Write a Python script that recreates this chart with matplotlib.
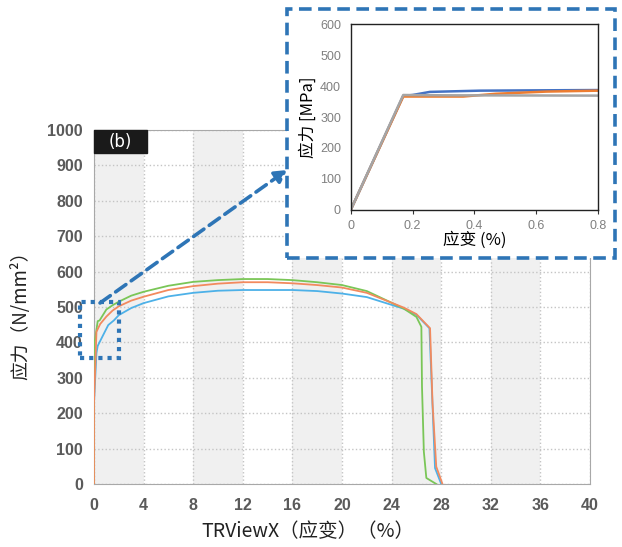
import numpy as np
import matplotlib.pyplot as plt
from matplotlib.patches import Rectangle, FancyArrowPatch

plt.rcParams['font.family'] = ['Noto Sans CJK SC', 'DejaVu Sans']

# --- 主图数据 (应变 %, 应力 N/mm2) ---
green_x = [0, 0, 0.05, 0.3, 0.45, 1.0, 1.5, 2, 3, 4, 6, 8, 10, 12, 14, 16, 18, 20, 22, 24, 25, 26, 26.4, 26.45, 26.6, 26.8, 27.6]
green_y = [0, 229, 400, 460, 462, 493, 505, 515, 532, 543, 560, 571, 576, 579, 579, 576, 570, 562, 545, 512, 495, 472, 444, 275, 91, 17, 0]

orange_x = [0, 0, 0.2, 0.5, 1, 1.5, 2, 3, 4, 6, 8, 10, 12, 14, 16, 18, 20, 22, 24, 25, 26, 27.1, 27.3, 27.6, 28.1]
orange_y = [0, 230, 430, 452, 473, 490, 502, 518, 529, 548, 559, 566, 570, 570, 567, 562, 555, 540, 512, 498, 480, 440, 228, 49, 0]

blue_x = [0, 0, 0.2, 0.3, 0.6, 1.15, 1.6, 2.0, 3, 4, 6, 8, 10, 12, 14, 16, 18, 20, 22, 24, 25, 26, 27.05, 27.5, 28.0]
blue_y = [0, 230, 370, 390, 411, 449, 462, 477, 497, 511, 530, 540, 546, 548, 548, 548, 545, 538, 528, 506, 495, 478, 440, 45, 0]

# --- 放大图数据 (应变 %, 应力 MPa) ---
in_blue_x = [0, 0.17, 0.2, 0.256, 0.418, 0.6, 0.8]
in_blue_y = [0, 368, 371, 381, 385, 386, 387]
in_orange_x = [0, 0.17, 0.2, 0.364, 0.47, 0.633, 0.8]
in_orange_y = [0, 366, 366, 366, 375, 382, 385]
in_grey_x = [0, 0.17, 0.3, 0.8]
in_grey_y = [0, 371, 370, 369]

xticks = list(range(0, 41, 4))
yticks = list(range(0, 1001, 100))
in_xticks = [0, 0.2, 0.4, 0.6, 0.8]
in_xlabels = ['0', '0.2', '0.4', '0.6', '0.8']
in_yticks = list(range(0, 601, 100))

fig = plt.figure(figsize=(6.22, 5.47), dpi=100)
ax = fig.add_axes([0.1511, 0.1152, 0.7975, 0.6471])

# 灰白相间背景
for i, x0 in enumerate(xticks[:-1]):
    if i % 2 == 0:
        ax.axvspan(x0, x0 + 4, color='#f0f0f0', zorder=0, lw=0)

ax.plot(blue_x, blue_y, color='#4db1e8', lw=1.3, zorder=3)
ax.plot(green_x, green_y, color='#7ac657', lw=1.3, zorder=3)
ax.plot(orange_x, orange_y, color='#f28a5e', lw=1.3, zorder=4)

ax.set_xlim(0, 40)
ax.set_ylim(0, 1000)
ax.set_xticks(xticks)
ax.set_yticks(yticks)
ax.grid(True, color='#c4c4c4', linestyle=':', lw=1)
ax.set_axisbelow(True)
ax.tick_params(axis='x', length=0, labelsize=11.5, labelcolor='#5a5a5a', pad=10)
ax.tick_params(axis='y', length=0, labelsize=11.5, labelcolor='#5a5a5a', pad=8)
for lab in ax.get_xticklabels() + ax.get_yticklabels():
    lab.set_fontweight('bold')
    lab.set_family(['Liberation Sans', 'DejaVu Sans'])
for s in ax.spines.values():
    s.set_color('#a8a8a8')
ax.set_xlabel('TRViewX（应变）（%）', fontsize=14, color='#222222')
ax.xaxis.set_label_coords(0.431, -0.105)
ax.set_ylabel('应力（N/mm²）', fontsize=13.5, color='#222222')
ax.yaxis.set_label_coords(-0.127, 0.49)

# (b) 标签
ax.add_patch(Rectangle((0, 935), 4.27, 65, color='#1a1a1a', zorder=6, clip_on=False))
ax.text(2.1, 965, '(b)', color='white', fontsize=12, ha='center', va='center', zorder=7,
        family=['DejaVu Sans'])

# 点线框
ax.add_patch(Rectangle((-1.13, 356), 3.15, 158, fill=False, edgecolor='#2e75b6',
                       lw=3, linestyle=(0, (1, 1.2)), zorder=8, clip_on=False))

# 放大图外框
frame = Rectangle((0.4614, 0.5283), 0.5273, 0.4552, transform=fig.transFigure,
                  facecolor='white', edgecolor='#2e75b6', lw=2.6,
                  linestyle=(0, (3.5, 1.8)), zorder=1)
fig.patches.append(frame)

# 虚线箭头
arrow = FancyArrowPatch((0.1608, 0.4461), (0.4614, 0.6892), transform=fig.transFigure,
                        arrowstyle='-|>,head_length=7,head_width=4', color='#2e75b6',
                        lw=2.6, linestyle=(0, (3.5, 1.8)), zorder=1.5, shrinkA=0, shrinkB=0)
fig.patches.append(arrow)

# 放大图
ax_in = fig.add_axes([0.5638, 0.6161, 0.3976, 0.34], zorder=2)
ax_in.plot(in_blue_x, in_blue_y, color='#4472c4', lw=1.8)
ax_in.plot(in_orange_x, in_orange_y, color='#ed7d31', lw=1.8)
ax_in.plot(in_grey_x, in_grey_y, color='#a5a5a5', lw=1.8)
ax_in.set_xlim(0, 0.8)
ax_in.set_ylim(0, 600)
ax_in.set_xticks(in_xticks)
ax_in.set_xticklabels(in_xlabels)
ax_in.set_yticks(in_yticks)
ax_in.tick_params(axis='x', length=3, color='#333333', labelsize=9, labelcolor='#808080', pad=4)
ax_in.tick_params(axis='y', length=0, labelsize=9, labelcolor='#808080', pad=7)
for lab in ax_in.get_xticklabels() + ax_in.get_yticklabels():
    lab.set_family(['Liberation Sans', 'DejaVu Sans'])
for s in ax_in.spines.values():
    s.set_color('#222222')
    s.set_linewidth(1)
ax_in.set_xlabel('应变 (%)', fontsize=12, labelpad=0)
ax_in.set_ylabel('应力 [MPa]', fontsize=12, labelpad=2)

fig.savefig('out.png', dpi=100)
